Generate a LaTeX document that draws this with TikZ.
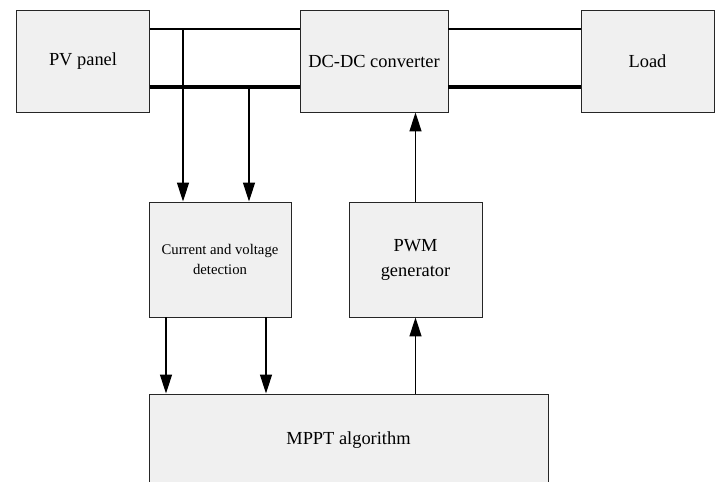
\documentclass[tikz,border=0pt]{standalone}
\usepackage{fontspec}
\setmainfont{Liberation Serif}
\newfontfamily\tiempos{Liberation Serif}
\usepackage{tikz}
\usetikzlibrary{arrows.meta}
\usetikzlibrary{positioning}

\begin{document}
\begin{tikzpicture}[x=1pt, y=-1pt,
    bloque/.style={rectangle, draw=black!85, fill=black!6, line width=0.9pt, inner sep=0pt, align=center},
    bus/.style={draw=black, line width=2.4pt},
    busg/.style={draw=black, line width=4pt},
    flecha/.style={draw=black, line width=1.3pt, -{Triangle[length=19pt, width=12pt]}},
    every node/.style={font=\tiempos\fontsize{18.4}{25}\selectfont}
]
\useasboundingbox (0,0) rectangle (716,482);
\clip (0,0) rectangle (716,482);

% Bloques
\node[bloque, minimum width=133pt, minimum height=102pt] (pv) at (83,61) {PV panel};
\node[bloque, minimum width=148pt, minimum height=102pt] (dcdc) at (374,61) {DC-DC converter};
\node[bloque, minimum width=133pt, minimum height=102pt] (load) at (647.5,61) {Load};
\node[bloque, minimum width=142pt, minimum height=115pt, font=\tiempos\fontsize{14.7}{20}\selectfont] (cvd) at (220,259.5) {Current and voltage\\detection};
\node[bloque, minimum width=133pt, minimum height=115pt] (pwm) at (415.5,259.5) {PWM\\generator};
\node[bloque, minimum width=399pt, minimum height=92pt] (mppt) at (348.5,440) {MPPT algorithm};

% Lineas de potencia
\draw[bus] ([yshift=32pt]pv.east) -- ([yshift=32pt]dcdc.west);
\draw[busg] ([yshift=-26pt]pv.east) -- ([yshift=-26pt]dcdc.west);
\draw[bus] ([yshift=32pt]dcdc.east) -- ([yshift=32pt]load.west);
\draw[busg] ([yshift=-26pt]dcdc.east) -- ([yshift=-26pt]load.west);

% Medidas
\coordinate (m1) at (183,29);
\coordinate (m2) at (249,87);
\draw[flecha] (m1) -- (m1 |- cvd.north);
\draw[flecha] (m2) -- (m2 |- cvd.north);
\draw[flecha] ([xshift=-54pt]cvd.south) -- ([xshift=-54pt]cvd.south |- mppt.north);
\draw[flecha] ([xshift=46pt]cvd.south) -- ([xshift=46pt]cvd.south |- mppt.north);

% Control
\draw[flecha] (pwm.south |- mppt.north) -- (pwm.south);
\draw[flecha] (pwm.north) -- (pwm.north |- dcdc.south);

\end{tikzpicture}
\end{document}
